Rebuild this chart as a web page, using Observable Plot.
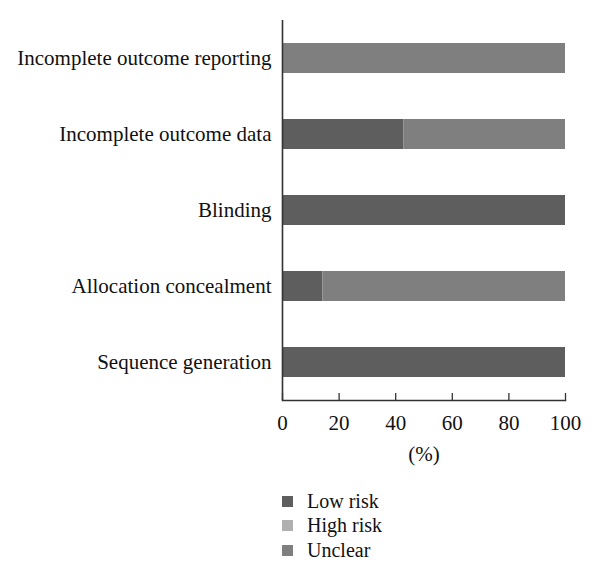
<!DOCTYPE html>
<html>
<head>
<meta charset="utf-8">
<script src="https://cdn.jsdelivr.net/npm/d3@7"></script>
<script src="https://cdn.jsdelivr.net/npm/@observablehq/plot@0.6"></script>
<style>
  body { margin: 0; background: #fff; font-family: "Liberation Serif", serif; }
  #legend { margin-left: 282px; margin-top: 19px; font-size: 20px; color: #111; }
  #legend div { display: flex; align-items: center; height: 24.5px; }
  #legend span.sw { display: inline-block; width: 11px; height: 11px; margin-right: 14px; }
</style>
</head>
<body>
<div id="chart"></div>
<div id="legend"></div>
<script>
const domains = ["Incomplete outcome reporting", "Incomplete outcome data", "Blinding", "Allocation concealment", "Sequence generation"];
const lowRisk = [0, 42.86, 100, 14.29, 100];
const highRisk = [0, 0, 0, 0, 0];
const unclear = [100, 57.14, 0, 85.71, 0];
const riskLevels = ["Low risk", "High risk", "Unclear"];
const riskColors = ["#5e5e5e", "#b0b0b0", "#7f7f7f"];
const xTicks = [0, 20, 40, 60, 80, 100];

const series = [lowRisk, highRisk, unclear];
const rows = [];
riskLevels.forEach((r, i) => domains.forEach((d, j) => rows.push({domain: d, risk: r, value: series[i][j]})));

const plot = Plot.plot({
  width: 600,
  height: 470,
  marginLeft: 282,
  marginRight: 35,
  marginTop: 20,
  marginBottom: 70,
  style: {fontFamily: "Liberation Serif, serif", fontSize: "21px", color: "#111", background: "#fff"},
  x: {domain: [0, 100], ticks: xTicks},
  y: {domain: domains, paddingInner: 0.6, paddingOuter: 0.3, align: 0.5},
  color: {domain: riskLevels, range: riskColors},
  marks: [
    Plot.barX(rows, Plot.stackX({x: "value", y: "domain", fill: "risk", order: riskLevels})),
    Plot.axisY({tickSize: 0, tickPadding: 11, label: null, fontSize: 21}),
    Plot.axisX({tickSize: -7, tickPadding: 22, stroke: "#333", strokeWidth: 1.3, label: "(%)", labelAnchor: "center", labelArrow: "none", labelOffset: 60, fontSize: 21}),
    Plot.ruleX([0], {stroke: "#333", strokeWidth: 1.6}),
    Plot.frame({anchor: "bottom", stroke: "#333", strokeWidth: 1.6})
  ]
});
document.getElementById("chart").appendChild(plot);

const legend = document.getElementById("legend");
riskLevels.forEach((r, i) => {
  const row = document.createElement("div");
  const sw = document.createElement("span");
  sw.className = "sw";
  sw.style.background = riskColors[i];
  row.appendChild(sw);
  row.appendChild(document.createTextNode(r));
  legend.appendChild(row);
});
</script>
</body>
</html>
